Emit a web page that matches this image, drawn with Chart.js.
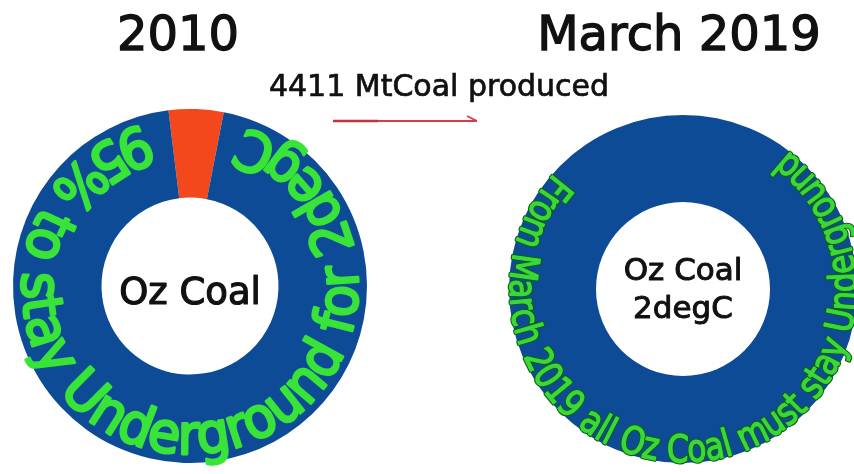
<!DOCTYPE html>
<html>
<head>
<meta charset="utf-8">
<title>Oz Coal</title>
<script src="https://cdn.jsdelivr.net/npm/chart.js@4"></script>
<style>
  html, body { margin: 0; padding: 0; width: 854px; height: 474px; overflow: hidden; background: #fff; }
  #stage { position: relative; width: 854px; height: 474px; overflow: hidden; }
  canvas { position: absolute; top: 0; }
  .txt { position: absolute; font-family: "DejaVu Sans", sans-serif; color: #111; text-align: center; white-space: nowrap; }
  .year { font-size: 48px; line-height: 48px; top: 9px; -webkit-text-stroke: 1.3px #111; }
  .note { font-size: 30px; line-height: 30px; top: 71px; left: 239px; width: 400px; -webkit-text-stroke: 0.7px #111; }
  svg { position: absolute; left: 0; top: 0; pointer-events: none; }
</style>
</head>
<body>
<div id="stage">
  <canvas id="c2010" width="427" height="474" style="left:0"></canvas>
  <canvas id="c2019" width="460" height="474" style="left:427px"></canvas>
  <div class="txt year" id="t0" style="left:78px;width:200px"></div>
  <div class="txt year" id="t1" style="left:529px;width:300px"></div>
  <div class="txt note" id="note"></div>
  <svg width="854" height="474">
    <line x1="333" y1="121" x2="378" y2="121" stroke="#c7303c" stroke-width="2.6"/>
    <line x1="378" y1="121" x2="477" y2="121" stroke="#d83a48" stroke-width="1.8"/>
    <line x1="477" y1="121" x2="467" y2="116" stroke="#d83a48" stroke-width="1.8"/>
  </svg>
</div>
<script>
// Periods compared
const years = ['2010', 'March 2019'];
// Slices of each ring: coal burned vs coal left in the ground
const sliceLabels = ['Produced', 'Underground'];
const share2010 = [5, 95];
const share2019 = [0, 100];
const producedMt = 4411;
// Words around and inside the rings
const centre2010 = ['Oz Coal'];
const centre2019 = ['Oz Coal', '2degC'];
const ring2019Text = 'From March 2019 all Oz Coal must stay Underground';

const COAL_RED = '#f4481c';
const COAL_BLUE = '#0d4b96';

document.getElementById('t0').textContent = years[0];
document.getElementById('t1').textContent = years[1];
document.getElementById('note').textContent = producedMt + ' MtCoal produced';

// Writes a string along the ring, letters standing on the outer rim with tops facing the hole
const ringText = {
  id: 'ringText',
  afterDatasetsDraw(chart, _args, o) {
    if (!o.text) return;
    const arc = chart.getDatasetMeta(0).data[0];
    const cx = arc.x, cy = arc.y, R = arc.outerRadius;
    const ctx = chart.ctx;
    ctx.save();
    ctx.font = `${o.weight || 'normal'} ${o.size}px ${o.family}`;
    const rb = R * o.baseline;
    const a0 = o.startDeg * Math.PI / 180;
    const a1 = o.endDeg * Math.PI / 180;
    const chars = [...o.text];
    const widths = chars.map(c => ctx.measureText(c).width);
    const total = widths.reduce((a, b) => a + b, 0);
    const k = (a0 - a1) * rb / total;
    const sx = Math.min(k, 1);
    let s = 0;
    chars.forEach((c, i) => {
      const w = widths[i] * k;
      const th = a0 - (s + w / 2) / rb;
      s += w;
      if (c === ' ') return;
      ctx.save();
      ctx.translate(cx + rb * Math.cos(th), cy + rb * Math.sin(th));
      ctx.rotate(th - Math.PI / 2);
      ctx.scale(sx, 1);
      ctx.textAlign = 'center';
      ctx.textBaseline = 'alphabetic';
      ctx.lineJoin = 'round';
      if (o.outline) {
        ctx.lineWidth = o.outlineWidth;
        ctx.strokeStyle = o.outline;
        ctx.strokeText(c, 0, 0);
      }
      ctx.lineWidth = o.strokeWidth;
      ctx.strokeStyle = o.fill;
      ctx.strokeText(c, 0, 0);
      ctx.fillStyle = o.fill;
      ctx.fillText(c, 0, 0);
      ctx.restore();
    });
    ctx.restore();
  }
};

// Label in the hole of the doughnut
const holeText = {
  id: 'holeText',
  afterDraw(chart, _args, o) {
    if (!o.lines) return;
    const arc = chart.getDatasetMeta(0).data[0];
    const ctx = chart.ctx;
    ctx.save();
    ctx.font = `${o.size}px ${o.family}`;
    ctx.fillStyle = o.color;
    ctx.strokeStyle = o.color;
    ctx.lineWidth = o.strokeWidth || 0;
    ctx.lineJoin = 'round';
    ctx.textAlign = 'center';
    ctx.textBaseline = 'alphabetic';
    o.lines.forEach((ln, i) => {
      const y = arc.y + o.baselines[i];
      ctx.fillText(ln, arc.x, y);
      if (o.strokeWidth) ctx.strokeText(ln, arc.x, y);
    });
    ctx.restore();
  }
};

function ringChart(id, values, padding, rotation, ring, hole) {
  return new Chart(document.getElementById(id), {
    type: 'doughnut',
    data: {
      labels: sliceLabels,
      datasets: [{
        data: values,
        backgroundColor: [COAL_RED, COAL_BLUE],
        borderWidth: 0,
        hoverOffset: 0,
        offset: 0,
        spacing: 0
      }]
    },
    options: {
      responsive: false,
      animation: false,
      events: [],
      cutout: '50%',
      rotation: rotation,
      layout: { padding: padding },
      plugins: {
        legend: { display: false },
        tooltip: { enabled: false },
        title: { display: false },
        ringText: ring,
        holeText: hole
      }
    },
    plugins: [ringText, holeText]
  });
}

ringChart('c2010', share2010,
  { left: 13, top: 109, right: 60, bottom: 11 },
  -7,
  {
    text: share2010[1] + '% to stay Underground for 2degC',
    startDeg: 254, endDeg: -70.6, baseline: 0.95,
    size: 56, family: '"DejaVu Sans", sans-serif',
    fill: '#38e438', strokeWidth: 2.8
  },
  {
    lines: centre2010, baselines: [18], size: 37,
    family: '"DejaVu Sans", sans-serif', color: '#111', strokeWidth: 1.2
  }
);

ringChart('c2019', share2019,
  { left: 82, top: 115, right: 30, bottom: 11 },
  0,
  {
    text: ring2019Text,
    startDeg: 222, endDeg: -53, baseline: 0.995,
    size: 38, family: '"DejaVu Sans", sans-serif',
    fill: '#3ad83a', strokeWidth: 1.4,
    outline: '#0b600b', outlineWidth: 3.6
  },
  {
    lines: centre2019, baselines: [-9, 29], size: 31,
    family: '"DejaVu Sans", sans-serif', color: '#111', strokeWidth: 1
  }
);
</script>
</body>
</html>
